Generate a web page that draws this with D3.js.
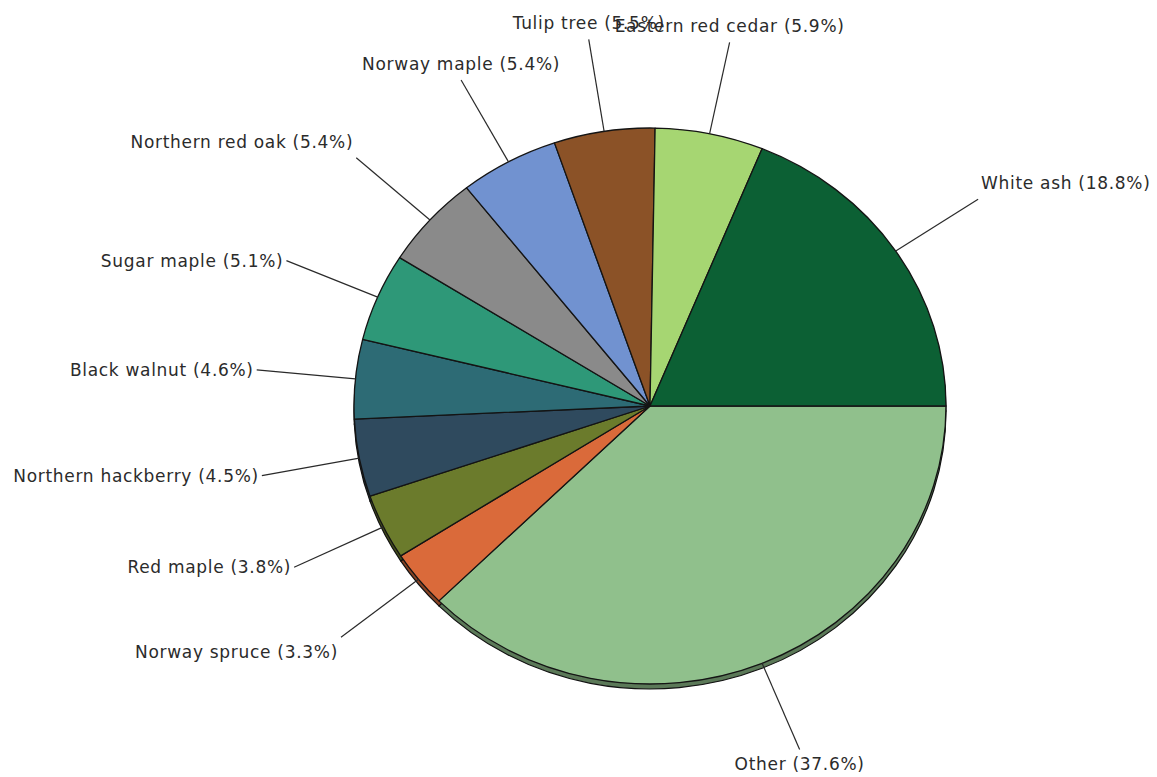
<!DOCTYPE html>
<html>
<head>
<meta charset="utf-8">
<script src="https://cdn.jsdelivr.net/npm/d3@7"></script>
<style>
  body { margin: 0; background: #fff; }
  svg { display: block; }
</style>
</head>
<body>
<script>
// Species share of the tree population (in %), clockwise from 3 o'clock
const species = [
  "Other", "Norway spruce", "Red maple", "Northern hackberry", "Black walnut",
  "Sugar maple", "Northern red oak", "Norway maple", "Tulip tree",
  "Eastern red cedar", "White ash"
];
const shares = [37.6, 3.3, 3.8, 4.5, 4.6, 5.1, 5.4, 5.4, 5.5, 5.9, 18.8];
const sliceColors = [
  "#90c08c", "#da6a3a", "#6b7b2c", "#2f4a5e", "#2d6b75",
  "#2e9878", "#8a8a8a", "#7192d0", "#8b5227", "#a6d672", "#0c6034"
];

const width = 1157;
const height = 777;

// pie geometry (slightly tilted, so it is an ellipse)
const cx = 650, cy = 406;
const rx = 296, ry = 278;
const depth = 5;
const labelR = 1.335;

const data = species.map((name, i) => ({ name, value: shares[i], color: sliceColors[i] }));

const svg = d3.select("body")
  .append("svg")
  .attr("width", width)
  .attr("height", height);

const pie = d3.pie()
  .sort(null)
  .value((d) => d.value)
  .startAngle(Math.PI / 2)
  .endAngle(Math.PI / 2 + 2 * Math.PI);

const arcs = pie(data);

const arc = d3.arc().innerRadius(0).outerRadius(rx);

// side of the pie (drawn first, shifted down)
svg.append("g")
  .attr("transform", `translate(${cx},${cy + depth}) scale(1,${ry / rx})`)
  .selectAll("path")
  .data(arcs)
  .join("path")
  .attr("d", arc)
  .attr("fill", (d) => d3.color(d.data.color).darker(1.3))
  .attr("stroke", "#111")
  .attr("stroke-width", 1.2)
  .attr("vector-effect", "non-scaling-stroke");

// top of the pie
svg.append("g")
  .attr("transform", `translate(${cx},${cy}) scale(1,${ry / rx})`)
  .selectAll("path")
  .data(arcs)
  .join("path")
  .attr("d", arc)
  .attr("fill", (d) => d.data.color)
  .attr("stroke", "#141414")
  .attr("stroke-width", 1.3)
  .attr("stroke-linejoin", "round")
  .attr("vector-effect", "non-scaling-stroke");

// point on the ellipse at angle a (0 = 12 o'clock, clockwise), radius factor k
const onEllipse = (a, k) => [cx + rx * k * Math.sin(a), cy - ry * k * Math.cos(a)];

const labels = svg.append("g");

arcs.forEach((d) => {
  const mid = (d.startAngle + d.endAngle) / 2;
  const p0 = onEllipse(mid, 1);
  const p1 = onEllipse(mid, labelR);
  const s = Math.sin(mid), c = Math.cos(mid);
  const fx = Math.abs(s) > 0.5 ? Math.sign(s) : 0;
  const fy = Math.abs(c) > 0.5 ? -Math.sign(c) : 0;

  labels.append("line")
    .attr("x1", p0[0]).attr("y1", p0[1])
    .attr("x2", p1[0]).attr("y2", p1[1])
    .attr("stroke", "#2a2a2a")
    .attr("stroke-width", 1.2);

  labels.append("text")
    .attr("x", p1[0] + fx * 3)
    .attr("y", p1[1] + (fy < 0 ? -16 : fy > 0 ? 15 : 0))
    .attr("dy", "0.35em")
    .attr("text-anchor", fx > 0 ? "start" : fx < 0 ? "end" : "middle")
    .attr("font-family", "'DejaVu Sans', Verdana, sans-serif")
    .attr("font-size", "17px")
    .attr("letter-spacing", "0.7px")
    .attr("fill", "#2b2b2b")
    .text(`${d.data.name} (${d.data.value.toFixed(1)}%)`);
});
</script>
</body>
</html>
